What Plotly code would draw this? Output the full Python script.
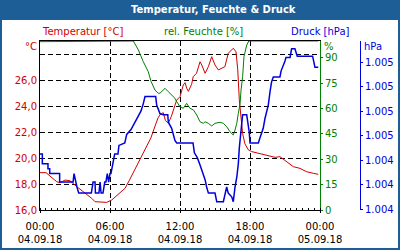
import plotly.graph_objects as go

DAY = "2018-09-04 "

temp_time = ["00:00", "00:31", "01:26", "01:43", "02:09", "02:34", "03:09", "03:51", "04:26", "04:43",
             "05:24", "05:43", "06:09", "06:41", "07:17", "07:40", "08:00", "08:24", "08:50", "09:09",
             "09:30", "09:50", "10:07", "10:20", "10:34", "10:45", "11:00", "11:15", "11:30", "11:43",
             "12:00", "12:09", "12:17", "12:26", "12:34", "12:43", "13:00", "13:08", "13:25", "13:43",
             "13:52", "14:09", "14:26", "14:43", "15:00", "15:17", "15:34", "15:51", "16:08", "16:34",
             "16:48", "16:57", "17:05", "17:13", "17:22", "17:34", "17:51", "18:09", "18:34", "19:00",
             "19:43", "20:09", "20:34", "21:09", "21:43", "22:17", "22:51", "23:26", "23:51"]
temp_vals = [18.88, 18.88, 18.18, 18.10, 18.31, 18.26, 17.80, 17.34, 16.90, 16.64,
             16.64, 16.59, 16.77, 17.16, 17.67, 18.30, 18.90, 19.60, 20.40, 20.90,
             21.55, 22.40, 23.10, 23.40, 23.50, 22.90, 22.70, 23.20, 23.97, 24.48,
             24.74, 25.25, 25.64, 25.82, 25.40, 25.15, 25.70, 26.28, 26.54, 27.43,
             27.18, 26.54, 27.05, 27.82, 27.18, 26.80, 26.93, 27.05, 28.08, 28.47,
             28.20, 26.80, 24.50, 23.00, 21.90, 21.10, 20.65, 20.50, 20.40, 20.30,
             20.11, 20.06, 20.11, 19.72, 19.34, 19.21, 18.95, 18.83, 18.75]

hum_time = ["00:00", "00:40", "00:45", "07:55", "08:00", "08:26", "08:51", "09:17", "09:30", "09:51",
            "10:08", "10:17", "10:34", "10:43", "11:00", "11:17", "11:34", "11:43", "12:00", "12:17",
            "12:34", "12:51", "13:09", "13:26", "13:43", "14:00", "14:09", "14:26", "14:43", "15:00",
            "15:26", "15:43", "16:00", "16:17", "16:34", "16:43", "16:52", "17:00", "17:09", "17:14",
            "17:22", "17:29", "17:43", "17:54", "23:51"]
hum_vals = [99.6, 99.6, 100, 100, 100, 94.7, 87.8, 81.8, 76.4, 71.0,
            69.1, 69.1, 71.0, 72.0, 70.0, 68.0, 66.1, 64.1, 61.1, 60.2,
            63.1, 60.2, 59.2, 56.2, 52.2, 51.3, 52.2, 51.3, 49.7, 51.3,
            51.9, 51.3, 49.3, 46.3, 44.4, 47.3, 51.3, 57.2, 63.1, 71.0,
            78.9, 90.7, 97.6, 100, 100]

pres_time = ["00:00", "00:12", "00:12", "00:41", "00:41", "00:50", "00:50", "01:41", "01:41", "02:50",
             "02:55", "03:03", "03:10", "03:19", "04:24", "04:33", "04:43", "04:45", "05:03", "05:09",
             "05:14", "05:24", "05:33", "05:39", "05:46", "05:53", "06:00", "06:05", "06:12", "06:24",
             "06:41", "06:46", "07:16", "07:17", "07:26", "07:48", "08:09", "08:26", "08:39", "08:51",
             "09:00", "09:55", "10:00", "10:17", "10:34", "10:57", "11:00", "11:17", "11:26", "11:34",
             "11:43", "13:07", "13:14", "13:22", "13:29", "13:43", "13:52", "14:00", "14:09", "14:17",
             "14:26", "15:00", "15:09", "15:43", "15:51", "16:00", "16:08", "16:26", "16:34", "16:38",
             "16:43", "16:52", "17:00", "17:05", "17:12", "17:22", "17:43", "17:51", "17:56", "18:00",
             "18:43", "18:51", "19:08", "19:17", "19:34", "19:43", "19:51", "20:00", "20:34", "20:40",
             "20:51", "21:00", "21:05", "21:26", "21:34", "21:51", "22:03", "23:22", "23:34", "23:51"]
pres_vals = [1.00445, 1.00445, 1.00437, 1.00437, 1.00433, 1.00433, 1.00429, 1.00429, 1.00422, 1.00422,
             1.00429, 1.00422, 1.00418, 1.00413, 1.00413, 1.00422, 1.00422, 1.00413, 1.00413, 1.00422,
             1.00413, 1.00413, 1.00422, 1.00422, 1.00429, 1.00422, 1.00429, 1.00429, 1.00436, 1.00445,
             1.00445, 1.00452, 1.00454, 1.00455, 1.00461, 1.00465, 1.00471, 1.00476, 1.00480, 1.00486,
             1.00492, 1.00492, 1.00485, 1.00478, 1.00477, 1.00477, 1.00471, 1.00466, 1.00461, 1.00456,
             1.00454, 1.00454, 1.00446, 1.00444, 1.00442, 1.00436, 1.00432, 1.00429, 1.00424, 1.00418,
             1.00413, 1.00413, 1.00406, 1.00406, 1.00411, 1.00418, 1.00413, 1.00410, 1.00406, 1.00413,
             1.00418, 1.00426, 1.00437, 1.00450, 1.00462, 1.00477, 1.00477, 1.00469, 1.00463, 1.00454,
             1.00454, 1.00458, 1.00466, 1.00474, 1.00485, 1.00496, 1.00504, 1.00508, 1.00508, 1.00513,
             1.00517, 1.00521, 1.00524, 1.00524, 1.00531, 1.00531, 1.00525, 1.00525, 1.00516, 1.00516]

temp_ticks = [16, 18, 20, 22, 24, 26, 28]
temp_ticktext = ["16,0", "18,0", "20,0", "22,0", "24,0", "26,0", ""]
hum_ticks = [0, 15, 30, 45, 60, 75, 90]
pres_ticks = [1.0040, 1.0042, 1.0044, 1.0046, 1.0048, 1.0050, 1.0052]
pres_ticktext = ["1.004", "1.004", "1.004", "1.005", "1.005", "1.005", "1.005"]
x_ticks = ["2018-09-04 00:00", "2018-09-04 06:00", "2018-09-04 12:00", "2018-09-04 18:00", "2018-09-05 00:00"]
x_range = ["2018-09-04 00:00", "2018-09-05 00:00"]

RED = "#d00000"
GREEN = "#008000"
BLUE = "#0000dd"
FRAME = "#1d5e96"
FONT = "DejaVu Sans"

fig = go.Figure()
fig.add_trace(go.Scatter(x=[DAY + t for t in temp_time], y=temp_vals, mode="lines",
                         line=dict(color=RED, width=1), yaxis="y", xaxis="x", hoverinfo="skip"))
fig.add_trace(go.Scatter(x=[DAY + t for t in hum_time], y=hum_vals, mode="lines",
                         line=dict(color=GREEN, width=1), yaxis="y2", xaxis="x", hoverinfo="skip"))
fig.add_trace(go.Scatter(x=[DAY + t for t in pres_time], y=pres_vals, mode="lines",
                         line=dict(color=BLUE, width=1.5), yaxis="y3", xaxis="x", hoverinfo="skip"))
# invisible helper so the date-label axis is drawn
fig.add_trace(go.Scatter(x=x_range, y=[temp_ticks[0], temp_ticks[0]], mode="lines",
                         line=dict(width=0, color="rgba(0,0,0,0)"), opacity=0,
                         yaxis="y", xaxis="x2", hoverinfo="skip"))

dash = "5px,3px"

fig.update_layout(
    width=400, height=250,
    margin=dict(l=40, r=10, t=41, b=40, autoexpand=False),
    paper_bgcolor="white", plot_bgcolor="white",
    showlegend=False,
    font=dict(family=FONT, size=10, color="black"),
    xaxis=dict(type="date", domain=[0, 0.8], range=x_range, tickvals=x_ticks, tickformat="%H:%M",
               showgrid=True, gridcolor="black", griddash=dash, gridwidth=1,
               showline=True, linecolor="black", linewidth=1, mirror=True,
               ticks="outside", ticklen=2, tickcolor="black",
               minor=dict(dtick=1800000, ticks="inside", ticklen=2, tickcolor="black", showgrid=False),
               tickfont=dict(size=10, color="black"), zeroline=False, ticklabelstandoff=5,
               automargin=False),
    xaxis2=dict(type="date", overlaying="x", anchor="y", side="bottom", domain=[0, 0.8], range=x_range,
                tickvals=x_ticks, tickformat="%d.%m.%y", showgrid=False, showline=False,
                ticks="", tickfont=dict(size=10, color="black"), ticklabelstandoff=22, zeroline=False,
                automargin=False),
    yaxis=dict(range=[16, 29.03], tickvals=temp_ticks, ticktext=temp_ticktext,
               tickfont=dict(size=10, color=RED), showgrid=True, gridcolor="black", griddash=dash,
               gridwidth=1, showline=True, linecolor="black", linewidth=1, ticks="", zeroline=False,
               automargin=False),
    yaxis2=dict(range=[0, 100], overlaying="y", side="right", anchor="x", tickvals=hum_ticks,
                tickfont=dict(size=10, color=GREEN), showgrid=False, showline=True, linecolor=GREEN,
                linewidth=1, ticks="outside", ticklen=2, tickcolor=GREEN, zeroline=False,
                automargin=False),
    yaxis3=dict(range=[1.003992, 1.005374], overlaying="y", side="right", anchor="free",
                position=320 / 350, tickvals=pres_ticks, ticktext=pres_ticktext,
                tickfont=dict(size=10, color=BLUE), showgrid=False, showline=True, linecolor=BLUE,
                linewidth=1, ticks="outside", ticklen=2, tickcolor=BLUE, zeroline=False,
                automargin=False),
)

def px(xp):
    return (xp - 40) / 350

def py(yp):
    return (210 - yp) / 169

fig.add_shape(type="rect", xref="paper", yref="paper", x0=px(0), x1=px(400), y0=py(20), y1=py(0),
              fillcolor=FRAME, line=dict(width=0))
fig.add_shape(type="rect", xref="paper", yref="paper", x0=px(1), x1=px(399), y0=py(249), y1=py(1),
              fillcolor="rgba(0,0,0,0)", line=dict(color=FRAME, width=2))

ann = [
    ("<b>Temperatur, Feuchte &amp; Druck</b>", 213, 10, "white"),
    ("Temperatur [°C]", 82, 32, RED),
    ("rel. Feuchte [%]", 203, 32, GREEN),
    ("Druck [hPa]", 320, 32, BLUE),
    ("°C", 31, 46, RED),
    ("%", 329, 46, GREEN),
    ("hPa", 373, 46, BLUE),
]
for text, xp, yp, col in ann:
    fig.add_annotation(text=text, xref="paper", yref="paper", x=px(xp), y=py(yp),
                       xanchor="center", yanchor="middle", showarrow=False,
                       font=dict(family=FONT, size=10, color=col))

fig.write_html("out.html")
